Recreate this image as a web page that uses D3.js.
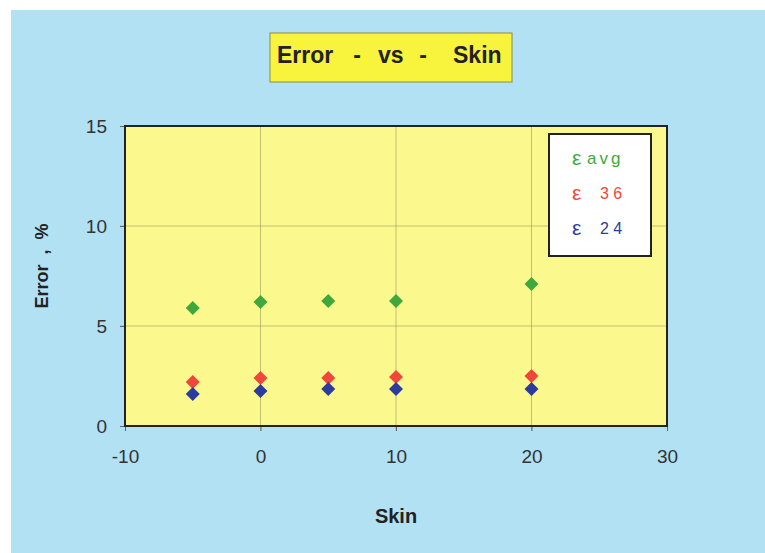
<!DOCTYPE html>
<html>
<head>
<meta charset="utf-8">
<script src="https://cdn.jsdelivr.net/npm/d3@7"></script>
<style>
  body { margin: 0; background: #fff; }
  text { font-family: "Liberation Sans", Arial, sans-serif; }
</style>
</head>
<body>
<div id="chart"></div>
<script>
/* Data */
const skin = [-5, 0, 5, 10, 20];
const errAvg = [5.9, 6.2, 6.25, 6.25, 7.1];
const err36 = [2.2, 2.4, 2.4, 2.45, 2.5];
const err24 = [1.6, 1.75, 1.85, 1.85, 1.85];

const xTicks = [-10, 0, 10, 20, 30];
const yTicks = [0, 5, 10, 15];

const series = [
  { name: 'avg', values: errAvg, color: '#3fa83c' },
  { name: '3 6', values: err36, color: '#f0473a' },
  { name: '2 4', values: err24, color: '#2c3c9e' }
];

/* Dimensions */
let width = 765, height = 553;
let plot = { left: 125, top: 126, right: 667, bottom: 426 };

let svg = d3.select('#chart')
  .append('svg')
  .attr('width', width)
  .attr('height', height);

// background
svg.append('rect')
  .attr('x', 11).attr('y', 10)
  .attr('width', width - 11).attr('height', height - 10)
  .style('fill', '#b2e1f4');

let x = d3.scaleLinear().domain([-10, 30]).range([plot.left, plot.right]);
let y = d3.scaleLinear().domain([0, 15]).range([plot.bottom, plot.top]);

// plot area
svg.append('rect')
  .attr('x', plot.left).attr('y', plot.top)
  .attr('width', plot.right - plot.left)
  .attr('height', plot.bottom - plot.top)
  .style('fill', '#fbf88e');

// grid lines
svg.append('g')
  .selectAll('line')
  .data(xTicks.slice(1, -1))
  .enter().append('line')
  .attr('x1', d => x(d)).attr('x2', d => x(d))
  .attr('y1', plot.top).attr('y2', plot.bottom + 5)
  .style('stroke', '#9a9a5a').style('stroke-width', 0.6);

svg.append('g')
  .selectAll('line')
  .data(yTicks.slice(1, -1))
  .enter().append('line')
  .attr('x1', plot.left - 5).attr('x2', plot.right)
  .attr('y1', d => y(d)).attr('y2', d => y(d))
  .style('stroke', '#9a9a5a').style('stroke-width', 0.6);

// axes
let xAxis = svg.append('g')
  .attr('transform', 'translate(0,' + plot.bottom + ')')
  .call(d3.axisBottom(x).tickValues(xTicks).tickFormat(d => String(d)).tickSize(5).tickPadding(19));
let yAxis = svg.append('g')
  .attr('transform', 'translate(' + plot.left + ',0)')
  .call(d3.axisLeft(y).tickValues(yTicks).tickFormat(d => String(d)).tickSize(5).tickPadding(13));

[xAxis, yAxis].forEach(a => {
  a.select('.domain').remove();
  a.selectAll('line').style('stroke', '#666');
  a.selectAll('text')
    .style('font-size', '19px')
    .style('fill', '#333');
});

// plot frame
svg.append('rect')
  .attr('x', plot.left).attr('y', plot.top)
  .attr('width', plot.right - plot.left)
  .attr('height', plot.bottom - plot.top)
  .style('fill', 'none')
  .style('stroke', '#222')
  .style('stroke-width', 2);

// points
let diamond = d3.symbol().type(d3.symbolDiamond2).size(125);
series.forEach(s => {
  svg.append('g')
    .selectAll('path')
    .data(s.values)
    .enter().append('path')
    .attr('d', diamond)
    .attr('transform', (d, i) => 'translate(' + x(skin[i]) + ',' + y(d) + ')')
    .style('fill', s.color);
});

// legend
let legend = svg.append('g');
legend.append('rect')
  .attr('x', 549).attr('y', 134)
  .attr('width', 102).attr('height', 122)
  .style('fill', '#fff')
  .style('stroke', '#222')
  .style('stroke-width', 2);

series.forEach((s, i) => {
  legend.append('text')
    .attr('x', 572)
    .attr('y', 165 + i * 35)
    .style('font-size', '21px')
    .style('fill', s.color)
    .text('\u03b5');
  legend.append('text')
    .attr('x', i === 0 ? 587 : 600)
    .attr('y', 164 + i * 35)
    .style('font-size', i === 0 ? '17px' : '16px')
    .style('letter-spacing', i === 0 ? '3px' : '0px')
    .style('white-space', 'pre')
    .style('fill', s.color)
    .text(s.name);
});

// title
svg.append('rect')
  .attr('x', 270).attr('y', 33)
  .attr('width', 242).attr('height', 49)
  .style('fill', '#f8f33c')
  .style('stroke', '#8c8c40')
  .style('stroke-width', 1);

const titleParts = [
  { t: 'Error', x: 277, a: 'start' },
  { t: '-', x: 357, a: 'middle' },
  { t: 'vs', x: 378, a: 'start' },
  { t: '-', x: 423, a: 'middle' },
  { t: 'Skin', x: 453, a: 'start' }
];
svg.append('g')
  .selectAll('text')
  .data(titleParts)
  .enter().append('text')
  .attr('x', d => d.x).attr('y', 63)
  .attr('text-anchor', d => d.a)
  .style('font-size', '23px')
  .style('font-weight', 'bold')
  .style('fill', '#222')
  .text(d => d.t);

// axis titles
svg.append('text')
  .attr('x', 396).attr('y', 523)
  .attr('text-anchor', 'middle')
  .style('font-size', '20px')
  .style('font-weight', 'bold')
  .style('fill', '#222')
  .text('Skin');

svg.append('text')
  .attr('transform', 'translate(48,266) rotate(-90)')
  .attr('text-anchor', 'middle')
  .style('font-size', '18px')
  .style('font-weight', 'bold')
  .style('fill', '#222')
  .style('white-space', 'pre')
  .text('Error  ,  %');
</script>
</body>
</html>
